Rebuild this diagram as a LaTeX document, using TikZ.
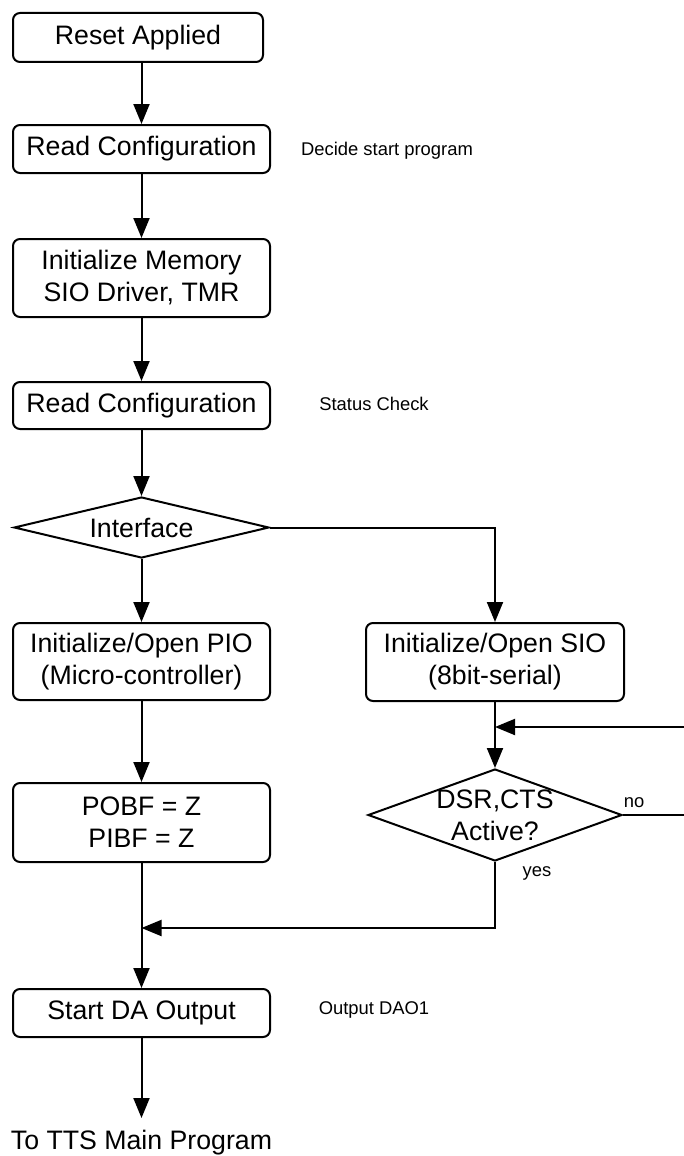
\documentclass[tikz,border=0pt]{standalone}
\usepackage{fontspec}
\setmainfont{Liberation Sans}
\usetikzlibrary{shapes.geometric,arrows.meta}

\tikzset{
  flowbox/.style={draw, rounded corners=7pt, line width=2pt, minimum width=257pt, minimum height=48pt, align=center, inner sep=2pt, font=\fontsize{26.7}{32}\selectfont},
  decision/.style={draw, diamond, line width=2pt, inner sep=0pt, align=center, font=\fontsize{26.7}{32}\selectfont},
  note/.style={font=\fontsize{18.4}{22}\selectfont, inner sep=0pt},
  flow/.style={line width=2pt, -{Triangle[length=20pt,width=16pt]}},
  wire/.style={line width=2pt}
}

\begin{document}
\begin{tikzpicture}[x=1pt, y=-1pt]
    \useasboundingbox (0,0) rectangle (684,1156);

    % Start-up steps
    \node[flowbox, minimum width=250pt, minimum height=49pt] (reset) at (138,37.5) {Reset Applied};
    \node[flowbox] (readcfg) at (141.5,149) {Read Configuration};
    \node[note] (decide) at (387,151) {Decide start program};
    \node[flowbox, minimum height=78pt] (initmem) at (141.5,278) {Initialize Memory\\SIO Driver, TMR};
    \node[flowbox, minimum height=47pt] (status) at (141.5,405.5) {Read Configuration};
    \node[note] (statusnote) at (374,404) {Status Check};
    \node[decision, minimum width=255pt, minimum height=61pt, aspect=4.2] (iface) at (141.5,527.5) {Interface};

    % Parallel branch (left)
    \node[flowbox, minimum height=77pt] (pio) at (141.5,661.5) {Initialize/Open PIO\\(Micro-controller)};
    \node[flowbox, minimum height=79pt] (pobf) at (141.5,822.5) {POBF = Z\\PIBF = Z};

    % Serial branch (right)
    \node[flowbox, minimum width=258pt, minimum height=78pt] (sio) at (495,662) {Initialize/Open SIO\\(8bit-serial)};
    \node[decision, minimum width=254pt, minimum height=92pt, aspect=2.76, inner sep=-5pt] (dsr) at (495,815) {DSR,CTS\\Active?};
    \node[note] (no) at (634,803) {no};
    \node[note] (yes) at (537,873) {yes};

    % Output
    \node[flowbox] (startda) at (141.5,1013) {Start DA Output};
    \node[note] (outnote) at (374,1010) {Output DAO1};
    \node[anchor=north, inner xsep=0pt, inner ysep=11.5pt, font=\fontsize{26.7}{32}\selectfont] (tts) at (141.5,1118) {To TTS Main Program};

    % Loop and merge points
    \coordinate (retry) at (690,727);
    \coordinate (join) at (141.5,928);

    % Connectors
    \draw[flow] (reset.south -| readcfg.north) -- (readcfg.north);
    \draw[flow] (readcfg) -- (initmem);
    \draw[flow] (initmem) -- (status);
    \draw[flow] (status) -- (iface);
    \draw[flow] (iface) -- (pio);
    \draw[flow] (iface.east) -| (sio.north);
    \draw[flow] (pio) -- (pobf);
    \draw[flow] (sio) -- (dsr);
    \draw[wire] (dsr.east) -| (retry);
    \draw[flow] (retry) -- (retry -| sio.south);
    \draw[flow] (dsr.south) |- (join);
    \draw[flow] (pobf) -- (startda);
    \draw[flow] (startda) -- (tts);
\end{tikzpicture}
\end{document}
